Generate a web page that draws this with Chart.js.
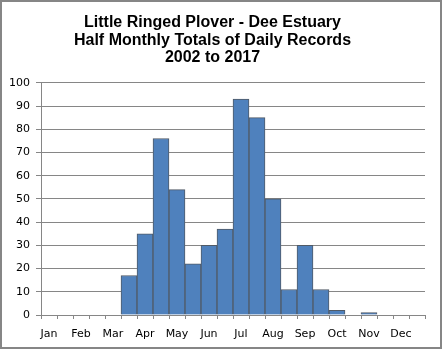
<!DOCTYPE html>
<html>
<head>
<meta charset="utf-8">
<script src="https://cdn.jsdelivr.net/npm/chart.js@4/dist/chart.umd.min.js"></script>
<style>
  html, body { margin: 0; padding: 0; background: #fff; }
  #wrap { width: 443px; height: 350px; }
</style>
</head>
<body>
<div id="wrap"><canvas id="ploverChart" width="443" height="350"></canvas></div>
<script>
const months = ['Jan', 'Feb', 'Mar', 'Apr', 'May', 'Jun', 'Jul', 'Aug', 'Sep', 'Oct', 'Nov', 'Dec'];
const halves = ['1-15', '16-end'];
// records per half month, Jan 1-15 through Dec 16-end
const halfMonthTotals = [0, 0, 0, 0, 0, 17, 35, 76, 54, 22, 30, 37, 93, 85, 50, 11, 30, 11, 2, 0, 1, 0, 0, 0];
const yMin = 0;
const yMax = 100;
const yStep = 10;

const titleLines = [
    'Little Ringed Plover - Dee Estuary',
    'Half Monthly Totals of Daily Records',
    '2002 to 2017'
];

const labels = months.flatMap(m => halves.map(h => m + ' ' + h));

const frame = {
    id: 'frame',
    beforeDraw(chart) {
        const ctx = chart.ctx;
        ctx.save();
        ctx.fillStyle = '#fff';
        ctx.fillRect(0, 0, chart.width, chart.height);
        ctx.restore();
    },
    afterDraw(chart) {
        const ctx = chart.ctx;
        ctx.save();
        ctx.strokeStyle = '#868686';
        ctx.lineWidth = 2;
        ctx.strokeRect(1, 1, 440, 347);
        ctx.restore();
    }
};

new Chart(document.getElementById('ploverChart'), {
    type: 'bar',
    data: {
        labels: labels,
        datasets: [{
            label: 'Records',
            data: halfMonthTotals,
            backgroundColor: '#4f81bd',
            borderColor: '#505a66',
            borderWidth: 1,
            barPercentage: 1,
            categoryPercentage: 1
        }]
    },
    options: {
        responsive: false,
        animation: false,
        layout: { padding: { left: 0, right: 18, top: 0, bottom: 0 } },
        plugins: {
            legend: { display: false },
            tooltip: { enabled: false },
            title: {
                display: true,
                text: titleLines,
                color: '#000',
                font: { family: 'Liberation Sans', size: 16, weight: 'bold', lineHeight: 1.1 },
                padding: { top: 14, bottom: 16 }
            }
        },
        scales: {
            x: {
                grid: {
                    display: true,
                    offset: true,
                    drawOnChartArea: false,
                    color: '#868686',
                    tickLength: 4
                },
                border: { color: '#868686', width: 1 },
                ticks: {
                    autoSkip: false,
                    maxRotation: 0,
                    padding: 9,
                    color: '#000',
                    font: { family: 'DejaVu Sans', size: 11 },
                    callback: (v, i) => i % 2 === 0 ? months[i / 2] : ''
                },
                afterFit: scale => { scale.height = 35; }
            },
            y: {
                min: yMin,
                max: yMax,
                grid: { color: '#868686', tickLength: 5 },
                border: { color: '#868686', width: 1 },
                ticks: {
                    stepSize: yStep,
                    padding: 6,
                    color: '#000',
                    font: { family: 'DejaVu Sans', size: 11 }
                },
                afterFit: scale => { scale.width = 41; }
            }
        }
    },
    plugins: [frame]
});
</script>
</body>
</html>
